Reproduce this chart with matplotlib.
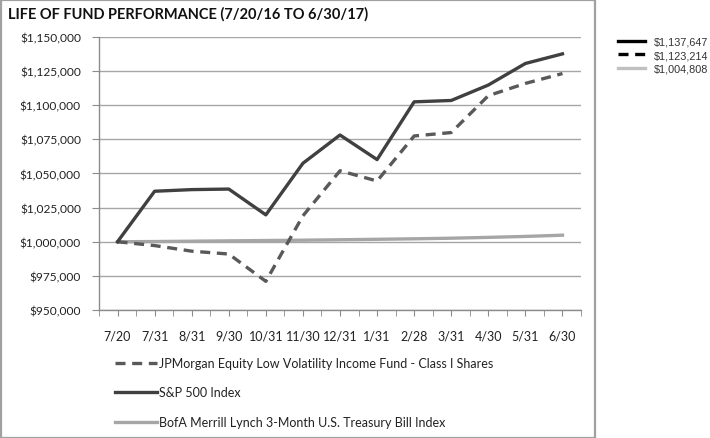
import matplotlib.pyplot as plt
from matplotlib.lines import Line2D
from matplotlib.patches import Rectangle
from matplotlib.ticker import FuncFormatter
import numpy as np

# data
dates = ["7/20", "7/31", "8/31", "9/30", "10/31", "11/30", "12/31",
         "1/31", "2/28", "3/31", "4/30", "5/31", "6/30"]
fund = [1000000, 997200, 993100, 991000, 971000, 1019000, 1052000,
        1044500, 1077500, 1080000, 1107000, 1116000, 1123214]
sp500 = [1000000, 1037000, 1038200, 1038600, 1019700, 1057500, 1078200,
         1060200, 1102500, 1103500, 1114800, 1130600, 1137647]
tbill = [1000000, 1000150, 1000400, 1000650, 1000900, 1001150, 1001450,
         1001800, 1002150, 1002600, 1003200, 1003900, 1004808]

fund_name = "JPMorgan Equity Low Volatility Income Fund - Class I Shares"
sp_name = "S&P 500 Index"
tbill_name = "BofA Merrill Lynch 3-Month U.S. Treasury Bill Index"

GRID = "#a6a6a6"
AXIS = "#8c8c8c"

fig = plt.figure(figsize=(7.1, 4.39), dpi=100)
ax = fig.add_axes([99 / 710, 1 - 311 / 439, 482 / 710, 273 / 439])

x = np.arange(len(dates))
l_fund, = ax.plot(x, fund, color="#595959", lw=2.4, ls=(0, (3, 2)), zorder=3)
l_sp, = ax.plot(x, sp500, color="#404040", lw=2.4, zorder=4)
l_tb, = ax.plot(x, tbill, color="#a6a6a6", lw=2.4, zorder=2)

ax.set_xlim(-0.5, len(dates) - 0.5)
ax.set_ylim(950000, 1150000)
ax.set_yticks(np.arange(950000, 1150001, 25000))
ax.yaxis.set_major_formatter(FuncFormatter(lambda v, p: "${:,.0f}".format(v)))
ax.set_xticks(x)
ax.set_xticklabels(dates)
ax.set_xticks(np.arange(-0.5, len(dates), 1.0), minor=True)
ax.grid(axis="y", color=GRID, lw=1.0)
ax.set_axisbelow(True)

for s in ["top", "right"]:
    ax.spines[s].set_visible(False)
for s in ["left", "bottom"]:
    ax.spines[s].set_color(AXIS)
    ax.spines[s].set_linewidth(1.0)

ax.tick_params(axis="y", direction="out", length=5, color=AXIS, pad=8,
               labelsize=8.6, labelcolor="#222222")
ax.tick_params(axis="x", which="both", direction="out", length=4, color=AXIS,
               pad=10, labelsize=9.0, labelcolor="#222222")
for lab in ax.get_xticklabels() + ax.get_yticklabels():
    lab.set_family("Lato")

fig.text(8 / 710, 1 - 14 / 439, "LIFE OF FUND PERFORMANCE (7/20/16 TO 6/30/17)",
         family="Lato", weight="bold", fontsize=10.5, va="center", ha="left",
         color="#111111")

# bottom legend (series names)
fig.legend([l_fund, l_sp, l_tb], [fund_name, sp_name, tbill_name],
           loc="upper left", bbox_to_anchor=(110 / 710, 1 - 353 / 439),
           frameon=False, handlelength=3.4, handletextpad=0.1,
           labelspacing=1.4, prop={"family": "Lato", "size": 9.0},
           labelcolor="#222222", borderaxespad=0)

# right legend (ending values)
h1 = Line2D([], [], color="black", lw=2.4)
h2 = Line2D([], [], color="black", lw=2.4, ls=(0, (3, 2)))
h3 = Line2D([], [], color="#c0c0c0", lw=2.4)
fig.legend([h1, h2, h3],
           ["${:,.0f}".format(sp500[-1]), "${:,.0f}".format(fund[-1]),
            "${:,.0f}".format(tbill[-1])],
           loc="upper left", bbox_to_anchor=(614 / 710, 1 - 33 / 439),
           frameon=False, handlelength=2.5, handletextpad=0.8,
           labelspacing=0.35, prop={"family": "Liberation Sans", "size": 7.8},
           labelcolor="#333333", borderaxespad=0)

# frame around the chart area
fig.patches.append(Rectangle((1 / 710, 0.5 / 439), 594 / 710, 438 / 439,
                             transform=fig.transFigure, fill=False,
                             edgecolor="#a0a0a0", lw=1.6))

fig.savefig("out.png", dpi=100)
